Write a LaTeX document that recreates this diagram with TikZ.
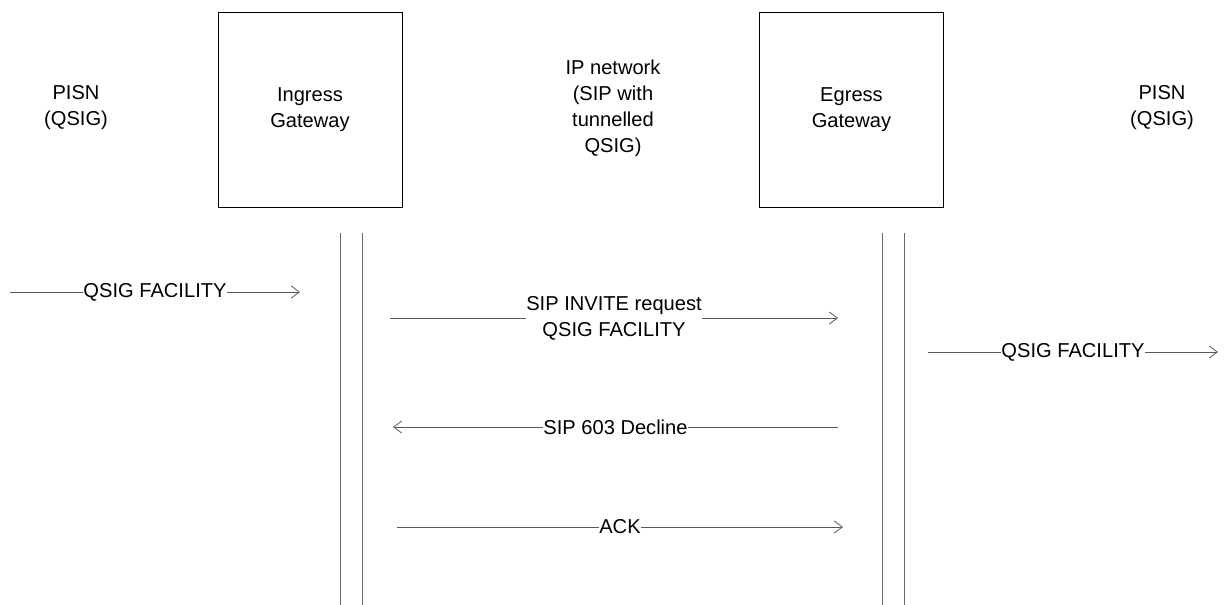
\documentclass[tikz,border=0pt]{standalone}
\usepackage{fontspec}
\setmainfont{Liberation Sans}
\usetikzlibrary{arrows.meta,positioning}

\begin{document}
\begin{tikzpicture}[
    x=0.025cm, y=-0.025cm,
    font=\fontsize{14.3}{18.5}\selectfont,
    gateway/.style={
      rectangle,
      draw,
      line width=0.6pt,
      minimum width=4.6cm,
      minimum height=4.875cm,
      align=center
    },
    label/.style={
      align=center
    },
    lifeline/.style={
      draw=black!60,
      line width=0.7pt
    },
    msg/.style={
      draw=black!65,
      line width=0.6pt,
      -{Straight Barb[length=0.2cm,width=0.3cm]}
    },
    msgtext/.style={
      fill=white,
      inner sep=0pt,
      align=center
    }
  ]
  \useasboundingbox (0,0) rectangle (1226,605);

  % entities
  \node[label] (pisnL) at (76,108) {PISN\\(QSIG)};
  \node[gateway] (ingress) at (310,109.5) {Ingress\\Gateway};
  \node[label] (ipnet) at (613,108) {IP network\\(SIP with\\tunnelled\\QSIG)};
  \node[gateway] (egress) at (851.5,109.5) {Egress\\Gateway};
  \node[label] (pisnR) at (1162,108) {PISN\\(QSIG)};

  % lifelines
  \coordinate (inA) at (340,233);
  \coordinate (inB) at (362,233);
  \coordinate (egA) at (882,233);
  \coordinate (egB) at (904,233);
  \draw[lifeline] (inA) -- (inA |- 0,605);
  \draw[lifeline] (inB) -- (inB |- 0,605);
  \draw[lifeline] (egA) -- (egA |- 0,605);
  \draw[lifeline] (egB) -- (egB |- 0,605);

  % message ends
  \coordinate (m1s) at (10,292);
  \coordinate (m1e) at (300,292);
  \coordinate (m2s) at (390,318);
  \coordinate (m2e) at (838,318);
  \coordinate (m3s) at (928,352);
  \coordinate (m3e) at (1218,352);
  \coordinate (m4s) at (838,427);
  \coordinate (m4e) at (393,427);
  \coordinate (m5s) at (397,527);
  \coordinate (m5e) at (843,527);

  % messages
  \draw[msg] (m1s) -- node[msgtext] (t1) {QSIG FACILITY} (m1e);
  \draw[msg] (m2s) -- node[msgtext] (t2) {SIP INVITE request\\QSIG FACILITY} (m2e);
  \draw[msg] (m3s) -- node[msgtext] (t3) {QSIG FACILITY} (m3e);
  \draw[msg] (m4s) -- node[msgtext] (t4) {SIP 603 Decline} (m4e);
  \draw[msg] (m5s) -- node[msgtext] (t5) {ACK} (m5e);
\end{tikzpicture}
\end{document}
